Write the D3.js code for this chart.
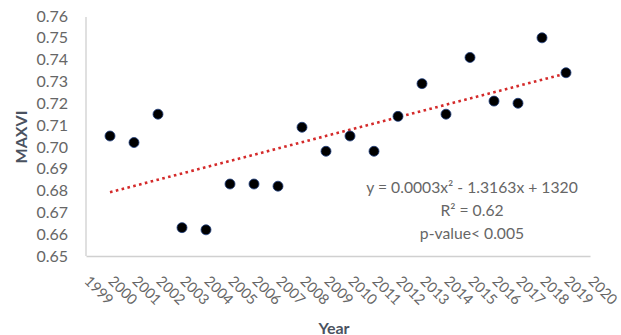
<!DOCTYPE html>
<html>
<head>
<meta charset="utf-8">
<script src="https://cdn.jsdelivr.net/npm/d3@7"></script>
<style>
  html, body { margin: 0; padding: 0; background: #fff; }
  svg { display: block; }
  text { font-family: Lato, "Open Sans", sans-serif; }
</style>
</head>
<body>
<svg id="chart" width="621" height="335"></svg>
<script>
// MAXVI by year
const years = [2000, 2001, 2002, 2003, 2004, 2005, 2006, 2007, 2008, 2009,
               2010, 2011, 2012, 2013, 2014, 2015, 2016, 2017, 2018, 2019];
const maxvi = [0.705, 0.702, 0.715, 0.663, 0.662, 0.683, 0.683, 0.682, 0.709, 0.698,
               0.705, 0.698, 0.714, 0.729, 0.715, 0.741, 0.721, 0.720, 0.750, 0.734];

// axis ticks
const yTicks = [0.65, 0.66, 0.67, 0.68, 0.69, 0.70, 0.71, 0.72, 0.73, 0.74, 0.75, 0.76];
const xTicks = d3.range(1999, 2021);

// fit annotation
const fitLines = ["y = 0.0003x\u00B2 - 1.3163x + 1320", "R\u00B2 = 0.62", "p-value< 0.005"];

const svg = d3.select("#chart");
const plot = { left: 86, right: 590, top: 16, bottom: 256 };

const x = d3.scaleLinear().domain([1999, 2020]).range([plot.left, plot.right]);
const y = d3.scaleLinear().domain([0.65, 0.76]).range([plot.bottom, plot.top]);

const tickColor = "#666666";
const titleColor = "#4a5260";
const axisColor = "#d0d0d0";

// y axis
const yAxis = svg.append("g")
  .attr("transform", `translate(${plot.left},0)`)
  .call(d3.axisLeft(y).tickValues(yTicks).tickFormat(d3.format(".2f")).tickSize(0).tickPadding(18));
yAxis.select(".domain").attr("stroke", axisColor).attr("stroke-width", 1.3)
  .attr("d", `M0,${plot.top + 1}V${plot.bottom}`);
yAxis.selectAll("text").attr("fill", tickColor).style("font-size", "16px")
  .style("font-family", "Lato, sans-serif");

// x axis
const xAxis = svg.append("g")
  .attr("transform", `translate(0,${plot.bottom})`)
  .call(d3.axisBottom(x).tickValues(xTicks).tickFormat(d3.format("d")).tickSize(0));
xAxis.select(".domain").attr("stroke", axisColor).attr("stroke-width", 1.3);
xAxis.selectAll("text")
  .attr("fill", tickColor).style("font-size", "14.5px").style("font-family", "Lato, sans-serif")
  .attr("text-anchor", "start")
  .attr("dy", null).attr("y", null)
  .attr("transform", d => `translate(-3,26) rotate(45)`);

// linear least-squares trend through the points
const mx = d3.mean(years), my = d3.mean(maxvi);
const sxy = d3.sum(years, (d, i) => (d - mx) * (maxvi[i] - my));
const sxx = d3.sum(years, d => (d - mx) * (d - mx));
const slope = sxy / sxx, intercept = my - slope * mx;
const trendX = d3.extent(years);
svg.append("path")
  .attr("d", d3.line().x(d => x(d)).y(d => y(intercept + slope * d))(trendX))
  .attr("fill", "none")
  .attr("stroke", "#d42a2a")
  .attr("stroke-width", 2.6)
  .attr("stroke-dasharray", "2.6 3.4");

// points
svg.append("g").selectAll("circle")
  .data(years)
  .join("circle")
  .attr("cx", d => x(d))
  .attr("cy", (d, i) => y(maxvi[i]))
  .attr("r", 5)
  .attr("fill", "#000")
  .attr("stroke", "#1f3f7f")
  .attr("stroke-width", 0.8);

// fit annotation
svg.append("g").selectAll("text")
  .data(fitLines)
  .join("text")
  .attr("x", 472)
  .attr("y", (d, i) => 187 + i * 23)
  .attr("dominant-baseline", "central")
  .attr("text-anchor", "middle")
  .attr("fill", tickColor)
  .style("font-size", "15.7px")
  .text(d => d);

// axis titles
svg.append("text")
  .attr("transform", "translate(20,137) rotate(-90)")
  .attr("text-anchor", "middle")
  .attr("dominant-baseline", "central")
  .attr("fill", titleColor)
  .style("font-size", "16px").style("font-weight", "bold")
  .text("MAXVI");

svg.append("text")
  .attr("x", 334).attr("y", 327)
  .attr("text-anchor", "middle")
  .attr("dominant-baseline", "central")
  .attr("fill", titleColor)
  .style("font-size", "16px").style("font-weight", "bold")
  .text("Year");
</script>
</body>
</html>
